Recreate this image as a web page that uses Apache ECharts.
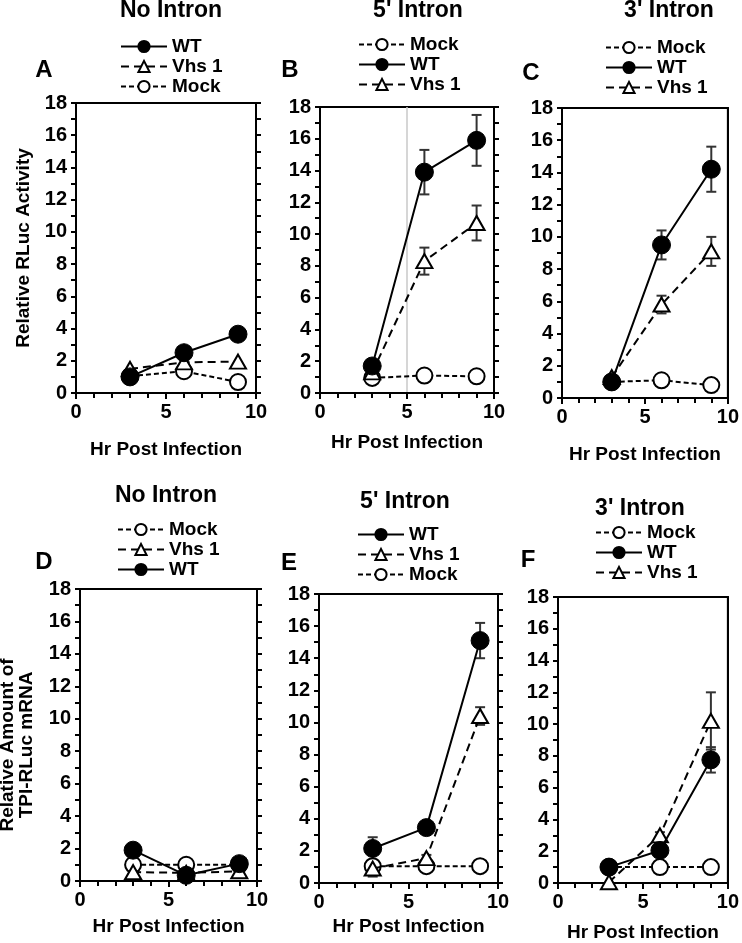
<!DOCTYPE html>
<html>
<head>
<meta charset="utf-8">
<script src="https://cdn.jsdelivr.net/npm/echarts@6/dist/echarts.min.js"></script>
<style>html,body{margin:0;padding:0;background:#fff;}#c{width:742px;height:943px;}</style>
</head>
<body>
<div id="c"></div>
<script>
// ---- data ----
const hours = [3, 6, 9];
const seriesNames = ['WT', 'Vhs 1', 'Mock'];
const panelTitles = ['No Intron', "5' Intron", "3' Intron", 'No Intron', "5' Intron", "3' Intron"];
const panelLetters = ['A', 'B', 'C', 'D', 'E', 'F'];
const xTicks = [0, 5, 10];
const yTicks = [0, 2, 4, 6, 8, 10, 12, 14, 16, 18];

// A: No intron, RLuc activity
const noIntronActWT = [1.0, 2.5, 3.65];
const noIntronActWTErr = [0, 0, 0];
const noIntronActVhs1 = [1.5, 1.9, 1.95];
const noIntronActVhs1Err = [0, 0, 0];
const noIntronActMock = [1.05, 1.35, 0.68];
const noIntronActMockErr = [0, 0, 0];
// B: 5' intron, RLuc activity
const fiveActWT = [1.7, 13.9, 15.9];
const fiveActWTErr = [0.2, 1.4, 1.6];
const fiveActVhs1 = [1.3, 8.3, 10.7];
const fiveActVhs1Err = [0.1, 0.85, 1.1];
const fiveActMock = [0.95, 1.1, 1.05];
const fiveActMockErr = [0, 0, 0];
// C: 3' intron, RLuc activity
const threeActWT = [1.0, 9.5, 14.2];
const threeActWTErr = [0.1, 0.9, 1.4];
const threeActVhs1 = [1.3, 5.8, 9.1];
const threeActVhs1Err = [0.1, 0.55, 0.9];
const threeActMock = [1.0, 1.1, 0.8];
const threeActMockErr = [0, 0.08, 0.08];
// D: No intron, mRNA
const noIntronRnaWT = [1.9, 0.35, 1.07];
const noIntronRnaWTErr = [0, 0, 0];
const noIntronRnaVhs1 = [0.55, 0.5, 0.6];
const noIntronRnaVhs1Err = [0, 0, 0];
const noIntronRnaMock = [1.0, 1.0, 1.0];
const noIntronRnaMockErr = [0, 0, 0];
// E: 5' intron, mRNA
const fiveRnaWT = [2.15, 3.45, 15.1];
const fiveRnaWTErr = [0.7, 0.3, 1.1];
const fiveRnaVhs1 = [0.9, 1.55, 10.4];
const fiveRnaVhs1Err = [0.5, 0.2, 0.55];
const fiveRnaMock = [1.05, 1.05, 1.05];
const fiveRnaMockErr = [0.1, 0, 0.08];
// F: 3' intron, mRNA
const threeRnaWT = [1.0, 2.05, 7.75];
const threeRnaWTErr = [0.1, 0.2, 0.8];
const threeRnaVhs1 = [0.05, 3.0, 10.2];
const threeRnaVhs1Err = [0, 0.2, 1.8];
const threeRnaMock = [1.0, 1.0, 1.0];
const threeRnaMockErr = [0, 0.08, 0.08];

const panelData = [
  {WT: [noIntronActWT, noIntronActWTErr], 'Vhs 1': [noIntronActVhs1, noIntronActVhs1Err], Mock: [noIntronActMock, noIntronActMockErr]},
  {WT: [fiveActWT, fiveActWTErr], 'Vhs 1': [fiveActVhs1, fiveActVhs1Err], Mock: [fiveActMock, fiveActMockErr]},
  {WT: [threeActWT, threeActWTErr], 'Vhs 1': [threeActVhs1, threeActVhs1Err], Mock: [threeActMock, threeActMockErr]},
  {WT: [noIntronRnaWT, noIntronRnaWTErr], 'Vhs 1': [noIntronRnaVhs1, noIntronRnaVhs1Err], Mock: [noIntronRnaMock, noIntronRnaMockErr]},
  {WT: [fiveRnaWT, fiveRnaWTErr], 'Vhs 1': [fiveRnaVhs1, fiveRnaVhs1Err], Mock: [fiveRnaMock, fiveRnaMockErr]},
  {WT: [threeRnaWT, threeRnaWTErr], 'Vhs 1': [threeRnaVhs1, threeRnaVhs1Err], Mock: [threeRnaMock, threeRnaMockErr]}
];
const legendOrders = [
  ['WT', 'Vhs 1', 'Mock'],
  ['Mock', 'WT', 'Vhs 1'],
  ['Mock', 'WT', 'Vhs 1'],
  ['Mock', 'Vhs 1', 'WT'],
  ['WT', 'Vhs 1', 'Mock'],
  ['Mock', 'WT', 'Vhs 1']
];

// ---- layout ----
const FONT = '"Liberation Sans", Arial, sans-serif';
const grids = [
  {left: 76, top: 103, width: 180, height: 290},
  {left: 320, top: 107, width: 174, height: 286},
  {left: 562, top: 108, width: 170, height: 290},
  {left: 80, top: 589, width: 177, height: 292},
  {left: 319, top: 594, width: 179, height: 289},
  {left: 558, top: 597, width: 174, height: 288}
];
const xNameGaps = [47, 40, 47, 36, 34, 40];
const rightTicks = [true, true, false, true, true, false];
const legendPos = [
  {left: 120, top: 37}, {left: 358, top: 35}, {left: 605, top: 38},
  {left: 117, top: 520}, {left: 357, top: 525}, {left: 595, top: 523}
];
const titlePos = [
  {x: 171, y: -1}, {x: 418, y: -1}, {x: 669, y: -1},
  {x: 166, y: 484}, {x: 405, y: 490}, {x: 640, y: 497}
];
const letterPos = [
  {x: 44, y: 70}, {x: 290, y: 70}, {x: 531, y: 73},
  {x: 44, y: 562}, {x: 289, y: 563}, {x: 528, y: 560}
];

const styles = {
  WT: {symbol: 'circle', symbolSize: 18, line: {color: '#000', width: 2, type: 'solid'}, item: {color: '#000', borderColor: '#000', borderWidth: 1}},
  'Vhs 1': {symbol: 'triangle', symbolSize: [16, 14], line: {color: '#000', width: 2, type: [8, 5]}, item: {color: '#fff', borderColor: '#000', borderWidth: 2}},
  Mock: {symbol: 'circle', symbolSize: 16, line: {color: '#000', width: 2, type: [5, 3]}, item: {color: '#fff', borderColor: '#000', borderWidth: 2}}
};

const option = {
  backgroundColor: '#fff',
  animation: false,
  textStyle: {fontFamily: FONT},
  grid: [], xAxis: [], yAxis: [], series: [], legend: [], title: [], graphic: []
};

grids.forEach((g, i) => {
  option.grid.push(Object.assign({show: true, borderColor: '#000', borderWidth: 2, backgroundColor: 'transparent'}, g));
  option.xAxis.push({
    gridIndex: i, type: 'value', min: 0, max: 10, interval: 5,
    name: 'Hr Post Infection', nameLocation: 'middle', nameGap: xNameGaps[i],
    nameTextStyle: {fontFamily: FONT, fontWeight: 'bold', fontSize: 19, color: '#000'},
    axisLine: {lineStyle: {color: '#000', width: 2}},
    axisTick: {show: true, length: 6, lineStyle: {color: '#000', width: 2}},
    minorTick: {show: true, splitNumber: 5, length: 5, lineStyle: {color: '#000', width: 2}},
    axisLabel: {fontFamily: FONT, fontWeight: 'bold', fontSize: 20, color: '#000', margin: 9,
      formatter: v => (xTicks.indexOf(v) >= 0 ? String(v) : '')},
    splitLine: {show: false}
  });
  option.yAxis.push({
    gridIndex: i, type: 'value', min: 0, max: 18, interval: 2,
    axisLine: {show: true, lineStyle: {color: '#000', width: 2}},
    axisTick: {show: true, length: 5, lineStyle: {color: '#000', width: 2}},
    minorTick: {show: true, splitNumber: 2, length: 5, lineStyle: {color: '#000', width: 2}},
    axisLabel: {fontFamily: FONT, fontWeight: 'bold', fontSize: 20, color: '#000', margin: 9,
      formatter: v => (yTicks.indexOf(v) >= 0 ? String(v) : '')},
    splitLine: {show: false}
  });
  option.yAxis.push({
    gridIndex: i, type: 'value', min: 0, max: 18, interval: 1, position: 'right',
    axisLine: {show: true, lineStyle: {color: '#000', width: 2}},
    axisTick: {show: rightTicks[i], length: 5, lineStyle: {color: '#000', width: 2}},
    axisLabel: {show: false},
    splitLine: {show: false}
  });
  const d = panelData[i];
  ['Mock', 'Vhs 1', 'WT'].forEach((name, k) => {
    const st = styles[name];
    const vals = d[name][0], errs = d[name][1];
    // error bars
    option.series.push({
      type: 'custom', xAxisIndex: i, yAxisIndex: 2 * i, silent: true, z: 1,
      data: hours.map((h, j) => [h, vals[j], errs[j]]),
      renderItem: function (params, api) {
        const x = api.value(0), y = api.value(1), e = api.value(2);
        if (!e) return;
        const top = api.coord([x, y + e]);
        const bot = api.coord([x, y - e]);
        const w = 5;
        const ls = {stroke: '#333', lineWidth: 2};
        return {type: 'group', children: [
          {type: 'line', shape: {x1: top[0], y1: top[1], x2: bot[0], y2: bot[1]}, style: ls},
          {type: 'line', shape: {x1: top[0] - w, y1: top[1], x2: top[0] + w, y2: top[1]}, style: ls},
          {type: 'line', shape: {x1: bot[0] - w, y1: bot[1], x2: bot[0] + w, y2: bot[1]}, style: ls}
        ]};
      }
    });
    const s = {
      name: name, type: 'line', xAxisIndex: i, yAxisIndex: 2 * i, z: 3 + k,
      data: hours.map((h, j) => [h, vals[j]]),
      symbol: st.symbol, symbolSize: st.symbolSize, showSymbol: true,
      lineStyle: st.line, itemStyle: st.item, clip: false,
      emphasis: {disabled: true}
    };
    if (i === 1 && name === 'Mock') {
      s.markLine = {silent: true, symbol: 'none', label: {show: false}, z: 0,
        lineStyle: {color: '#c8c8c8', width: 1.5, type: 'solid'}, data: [{xAxis: 5}]};
    }
    option.series.push(s);
  });
  option.legend.push({
    orient: 'vertical', left: legendPos[i].left, top: legendPos[i].top, padding: 0,
    itemWidth: 46, itemHeight: 14, itemGap: 1, selectedMode: false,
    data: legendOrders[i],
    textStyle: {fontFamily: FONT, fontWeight: 'bold', fontSize: 19, color: '#000'}
  });
  option.graphic.push({type: 'text', x: titlePos[i].x, y: titlePos[i].y,
    style: {text: panelTitles[i], font: 'bold 23px ' + FONT, fill: '#000', align: 'center', verticalAlign: 'top'}});
  option.graphic.push({type: 'text', x: letterPos[i].x, y: letterPos[i].y,
    style: {text: panelLetters[i], font: 'bold 24px ' + FONT, fill: '#000', align: 'center', verticalAlign: 'middle'}});
});

// y-axis titles
option.graphic.push({type: 'text', x: 24, y: 248, rotation: Math.PI / 2,
  style: {text: 'Relative RLuc Activity', font: 'bold 19px ' + FONT, fill: '#000', align: 'center', verticalAlign: 'middle'}});
option.graphic.push({type: 'text', x: 17, y: 745, rotation: Math.PI / 2,
  style: {text: 'Relative Amount of\nTPI-RLuc mRNA', font: 'bold 19px ' + FONT, fill: '#000', align: 'center', verticalAlign: 'middle', lineHeight: 19}});

const chart = echarts.init(document.getElementById('c'), null, {renderer: 'canvas'});
chart.setOption(option);
</script>
</body>
</html>
